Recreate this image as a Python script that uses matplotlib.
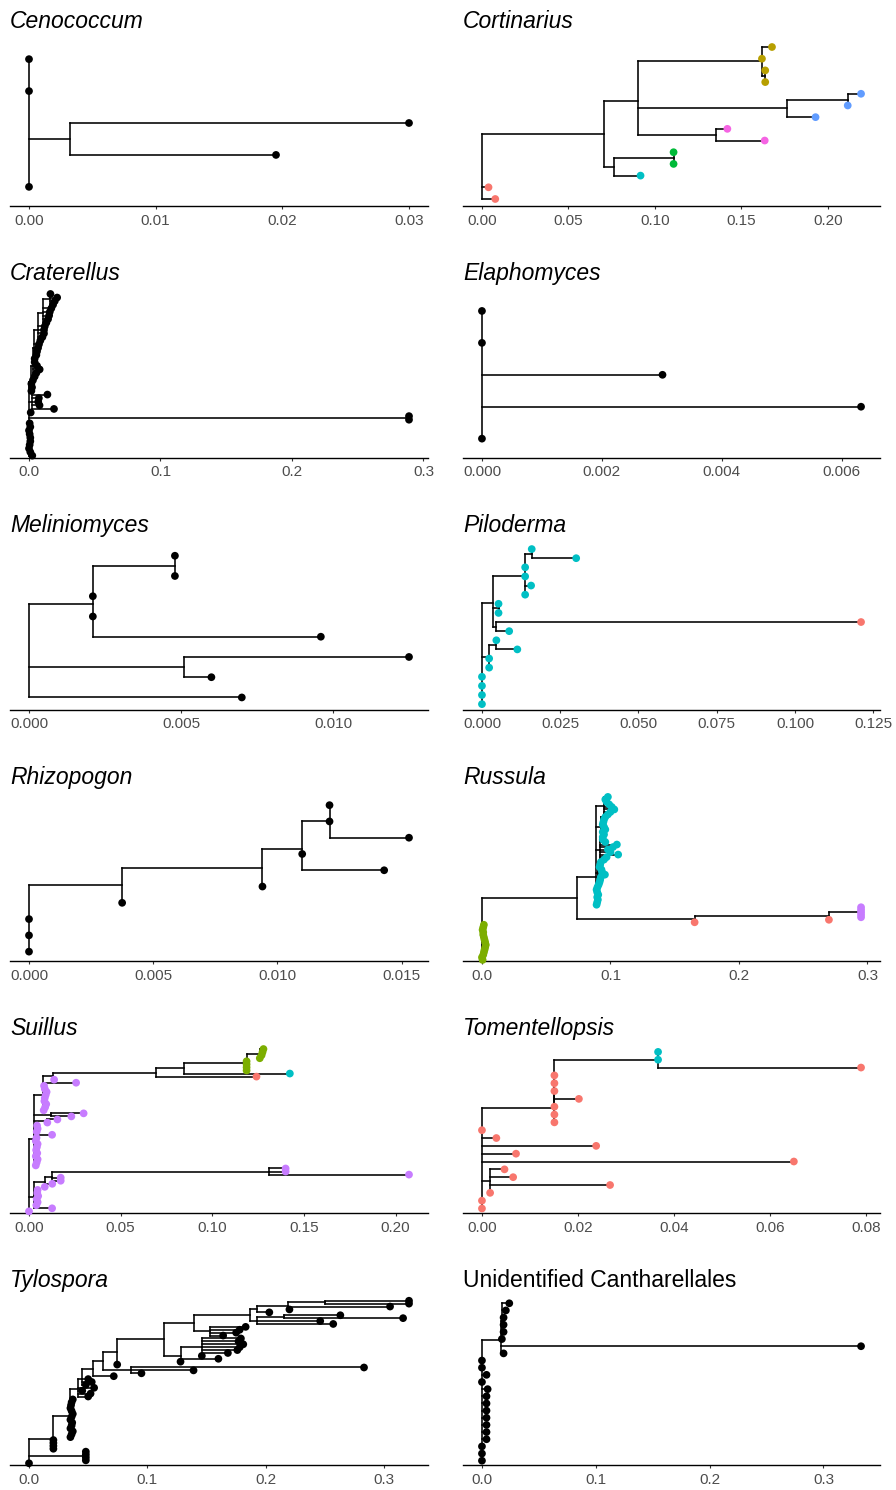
import re
import matplotlib
matplotlib.use("Agg")
import matplotlib.pyplot as plt
from matplotlib.collections import LineCollection

plt.rcParams['font.family'] = ['Liberation Sans', 'DejaVu Sans']

# ---------------- data ----------------
panel_titles = ["Cenococcum", "Cortinarius", "Craterellus", "Elaphomyces",
                "Meliniomyces", "Piloderma", "Rhizopogon", "Russula",
                "Suillus", "Tomentellopsis", "Tylospora",
                "Unidentified Cantharellales"]
italic_titles = [True] * 11 + [False]

# trees as Newick strings; tip label = colour group
cenococcum_tree = "(a:0,(a:0.0163,a:0.0268):0.0032,a:0,a:0);"

cortinarius_tree = """(r:0.0077,r:0.0038,((c:0.0152,(g:0,g:0):0.0343):0.0057,
((p:0.0279,p:0.0063):0.0452,(b:0.0167,(b:0,b:0.0077):0.0353):0.0858,
((o:0,o:0):0.0019,o:0,o:0.0058):0.0715):0.0196):0.0708);"""

craterellus_tree = """(a:0.0025,a:0.001,a:0,a:0.0005,a:0.001,a:0.001,a:0.0005,a:0,a:0.001,a:0.0005,
(a:0,a:0):0.289,a:0.0013,
(a:0.017,a:0.006,a:0.005,a:0.0055,a:0.012):0.002,
(a:0.0003,a:0.0008,a:0.0003,a:0.0015,
 (a:0.0013,a:0.0026,a:0.0051,a:0.0031,a:0.0013,
  (a:0.0003,a:0.0016,a:0.0021,a:0.0029,a:0.0036,
   (a:0.0016,a:0.0032,a:0.0044,a:0.0044,a:0.005,
    (a:0.0022,a:0.0035,a:0.0043,a:0.0048,a:0.006,
     (a:0.0023,a:0.0036,a:0.0054,a:0.0003):0.005):0.004):0.003):0.001):0.0015):0.0015);"""

elaphomyces_tree = "(a:0,a:0.00632,a:0.00301,a:0,a:0);"

meliniomyces_tree = "(a:0.0070,(a:0.0009,a:0.0074):0.0051,(a:0.0075,a:0,a:0,(a:0,a:0):0.0027):0.0021);"

piloderma_tree = """(c:0,c:0,c:0,c:0,(c:0,c:0,(c:0.0067,c:0):0.0023):0.0023,
((c:0.0041,r:0.1165):0.0011,(c:0,c:0):0.0018,
(c:0,c:0.0019,c:0,c:0,(c:0.0142,c:0):0.0021):0.0103):0.0035);"""

rhizopogon_tree = "(a:0,a:0,a:0,(a:0,(a:0,(a:0.0033,a:0,(a:0.0032,a:0,a:0):0.0011):0.0016):0.00565):0.00375);"

russula_tree = """(g:0.0005,g:0,g:0.001,g:0.0015,g:0.002,g:0.0025,g:0.003,g:0.0025,g:0.002,g:0.0015,
g:0.001,g:0.001,g:0.0005,g:0.001,g:0.0015,
((r:0,(r:0,(p:0,p:0,p:0,p:0,p:0):0.025):0.1045):0.0913,
 (c:0.0005,c:0.001,c:0.0015,c:0.001,c:0.0018,c:0.001,c:0.0005,c:0.0012,
  (c:0.0003,c:0.001,c:0.0015,c:0.002,c:0.0052,c:0.003,c:0.0025,c:0.001,c:0.0015,c:0.002):0.0018,
  (c:0.003,c:0.005,c:0.014,c:0.008,c:0.006,c:0.01,c:0.013,c:0.004,c:0.002):0.0033,
  (c:0.001,c:0.002,c:0.001,c:0.003,c:0.002,c:0.001,c:0.0015,c:0.002,c:0.003):0.0043,
  (c:0.003,c:0.005,c:0.008,c:0.006,c:0.004,c:0.002,c:0.001,c:0.003):0.0063):0.0145):0.0742);"""

suillus_tree = """(p:0,
(p:0.0099,p:0.0013,p:0.002,p:0.0015,p:0.0023,p:0.0018,p:0.002,
 (p:0,p:0.0041,(p:0.0047,p:0.0047,(p:0.0763,p:0.009,p:0.009):0.1184):0.004):0.0059):0.0027,
(p:0.001,p:0.0015,p:0.002,p:0.001,p:0.0018,p:0.0012,p:0.0016,p:0.002,p:0.001,p:0.0014,
 p:0.0099,p:0.0015,p:0.002,p:0.0017,
 (p:0,p:0.0055):0.0073,(p:0.0109,p:0.0176):0.0095,
 (p:0.0004,p:0.0012,p:0.0018,p:0.0008,p:0.001,p:0.0015,p:0.002,p:0.001,p:0.0006,p:0.0181,
  (p:0.0006,(r:0.0549,(c:0.0577,(g:0,g:0,g:0,g:0,(g:0,g:0.001,g:0.0015,g:0.002):0.0072):0.0341):0.0154):0.0561):0.0055
 ):0.0049):0.0027);"""

tomentellopsis_tree = """(r:0,r:0,(r:0,r:0.025,r:0.0048,r:0.003):0.0017,r:0.065,r:0.0071,r:0.0238,r:0.003,r:0,
(r:0,r:0,(r:0,r:0.0051,r:0,r:0,r:0,(r:0.0423,c:0,c:0):0.0216):0):0.0151);"""

tylospora_tree = """(a:0,(a:0,a:0,a:0,a:0):0.048,
(a:0,a:0,a:0,a:0,
 (a:0,a:0.001,a:0.002,a:0,a:0.001,a:0.0015,a:0,a:0.001,a:0.002,a:0.001,a:0,a:0.0005,a:0.001,a:0.002,
  (a:0.009,a:0.011,a:0.004,a:0.014,
   (a:0.003,a:0.008,a:0.005,
    (a:0.0176,
     ((a:0.009,a:0.053,a:0.197):0.0235,
      (a:0,
       ((a:0,a:0.032,(a:0,a:0.022,a:0.030,a:0.032,a:0.035,a:0.031,a:0.033):0.018):0.014,
        ((a:0.011,a:0.022,a:0.025,a:0.030):0.014,
         ((a:0.064,a:0.053,(a:0.101,a:0.048):0.022):0.006,
          (a:0.010,(a:0.001,a:0.086,(a:0.071,a:0.071):0.031):0.026):0.006):0.048):0.025):0.0395):0.012):0.0085):0.009):0.004):0.006):0.0144):0.0206);"""

unidentified_tree = """(a:0,a:0,a:0,a:0.004,a:0.004,a:0.004,a:0.004,a:0.004,a:0.004,a:0.004,a:0.005,
a:0,a:0.004,a:0,a:0,
(a:0.0025,a:0.3165,(a:0,a:0.0015,a:0.0015,a:0.0015,a:0.0035,a:0.0065):0.001):0.0165);"""

trees = [cenococcum_tree, cortinarius_tree, craterellus_tree, elaphomyces_tree,
         meliniomyces_tree, piloderma_tree, rhizopogon_tree, russula_tree,
         suillus_tree, tomentellopsis_tree, tylospora_tree, unidentified_tree]

black = {"a": "#000000"}
cortinarius_colors = {"r": "#F8766D", "o": "#B79F00", "g": "#00BA38",
                      "c": "#00BFC4", "b": "#619CFF", "p": "#F564E3"}
two_colors = {"r": "#F8766D", "c": "#00BFC4"}
four_colors = {"r": "#F8766D", "g": "#7CAE00", "c": "#00BFC4", "p": "#C77CFF"}
palettes = [black, cortinarius_colors, black, black, black, two_colors, black,
            four_colors, four_colors, two_colors, black, black]

tick_labels = [
    ["0.00", "0.01", "0.02", "0.03"],
    ["0.00", "0.05", "0.10", "0.15", "0.20"],
    ["0.0", "0.1", "0.2", "0.3"],
    ["0.000", "0.002", "0.004", "0.006"],
    ["0.000", "0.005", "0.010"],
    ["0.000", "0.025", "0.050", "0.075", "0.100", "0.125"],
    ["0.000", "0.005", "0.010", "0.015"],
    ["0.0", "0.1", "0.2", "0.3"],
    ["0.00", "0.05", "0.10", "0.15", "0.20"],
    ["0.00", "0.02", "0.04", "0.06", "0.08"],
    ["0.0", "0.1", "0.2", "0.3"],
    ["0.0", "0.1", "0.2", "0.3"],
]


# ---------------- helpers ----------------
def parse_newick(text):
    s = re.sub(r"\s+", "", text).rstrip(";")
    pos = 0

    def node():
        nonlocal pos
        nd = {"children": [], "name": "", "bl": 0.0}
        if s[pos] == "(":
            pos += 1
            while True:
                nd["children"].append(node())
                if s[pos] == ",":
                    pos += 1
                    continue
                pos += 1  # ')'
                break
        m = re.match(r"[^:,()]*", s[pos:])
        nd["name"] = m.group(0)
        pos += len(nd["name"])
        if pos < len(s) and s[pos] == ":":
            pos += 1
            m = re.match(r"[0-9.eE+-]+", s[pos:])
            nd["bl"] = float(m.group(0))
            pos += len(m.group(0))
        return nd

    return node()


def layout(root):
    tips, segs = [], []

    def place(nd, x):
        nd["x"] = x
        if not nd["children"]:
            tips.append(nd)
            nd["y"] = float(len(tips))
            return
        for ch in nd["children"]:
            place(ch, x + ch["bl"])
        ys = [ch["y"] for ch in nd["children"]]
        nd["y"] = sum(ys) / len(ys)
        segs.append([(x, min(ys)), (x, max(ys))])
        for ch in nd["children"]:
            segs.append([(x, ch["y"]), (ch["x"], ch["y"])])

    place(root, 0.0)
    return tips, segs


# ---------------- figure ----------------
W, H = 896, 1490
fig = plt.figure(figsize=(W / 100, H / 100), dpi=100)

col_left = [10, 463]
col_width = [418, 417]
row_axis_y = [206 + 251.8 * r for r in range(6)]
panel_h = 166

for i, (title, tree, pal, labels) in enumerate(zip(panel_titles, trees, palettes, tick_labels)):
    r, c = divmod(i, 2)
    ax = fig.add_axes([col_left[c] / W, 1 - row_axis_y[r] / H,
                       col_width[c] / W, panel_h / H])
    root = parse_newick(tree)
    tips, segs = layout(root)
    lc = LineCollection(segs, colors="black", linewidths=1.15,
                        capstyle="projecting", zorder=2)
    ax.add_collection(lc)
    ax.scatter([t["x"] for t in tips], [t["y"] for t in tips],
               s=31, c=[pal[t["name"]] for t in tips], linewidths=0,
               zorder=3, clip_on=False)
    xmax = max(t["x"] for t in tips)
    ax.set_xlim(-0.05 * xmax, 1.05 * xmax)
    ax.set_ylim(0.4, len(tips) + 0.6)
    ax.set_xticks([float(v) for v in labels])
    ax.set_xticklabels(labels)
    ax.set_yticks([])
    for side in ("left", "top", "right"):
        ax.spines[side].set_visible(False)
    ax.spines["bottom"].set_linewidth(1.0)
    ax.spines["bottom"].set_color("black")
    ax.tick_params(axis="x", length=2.5, width=0.8, color="#333333",
                   labelcolor="#4D4D4D", labelsize=11, pad=3)
    ax.set_facecolor("none")
    ax.set_title(title, loc="left", fontsize=16.5,
                 fontstyle="italic" if italic_titles[i] else "normal",
                 pad=8.5, color="black")

fig.savefig("out.png", dpi=100, facecolor="white")
